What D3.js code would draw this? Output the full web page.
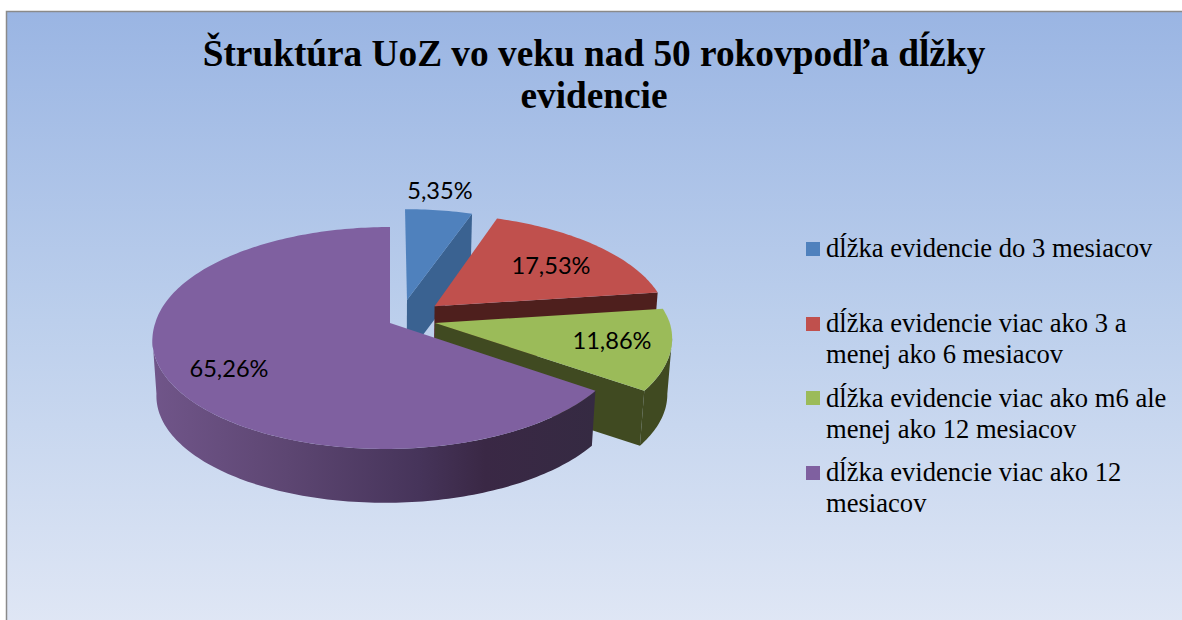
<!DOCTYPE html>
<html><head><meta charset="utf-8">
<script src="https://cdn.jsdelivr.net/npm/d3@7/dist/d3.min.js"></script>
<style>html,body{margin:0;padding:0;background:#fff;overflow:hidden}svg{display:block}</style>
</head><body><svg id="c" width="1182" height="620"></svg>
<script>
const categories = ["dĺžka evidencie do 3 mesiacov","dĺžka evidencie viac ako 3 a menej ako 6 mesiacov","dĺžka evidencie viac ako m6 ale menej ako 12 mesiacov","dĺžka evidencie viac ako 12 mesiacov"];
const values = [5.35, 17.53, 11.86, 65.26];
const valueLabels = ["5,35%","17,53%","11,86%","65,26%"];
const titleLines = ["Štruktúra UoZ vo veku nad 50 rokovpodľa dĺžky","evidencie"];
const legendLines = [["dĺžka evidencie do 3 mesiacov"],["dĺžka evidencie viac ako 3 a","menej ako 6 mesiacov"],["dĺžka evidencie viac ako m6 ale","menej ako 12 mesiacov"],["dĺžka evidencie viac ako 12","mesiacov"]];

// Layout and style, separate from the data
const colors = ["#4f81bd","#c0504d","#9bbb59","#7f60a0"];
const wallColors = ["#3a6291","#4e1f1d","#404a21","#4a3a60"];
const explode = [[.0745,.217],[.194,.158],[.192,0],[0,0]];
const labelPos = [[440,190],[551,265],[612,340],[229,368]];
const legendSwatchY = [242,317,391,466];
const legendBase = [[257],[332,363],[407,438],[481,512]];

const svg = d3.select("#c");
const defs = svg.append("defs");
const bg = defs.append("linearGradient").attr("id","bg").attr("x1",0).attr("y1",0).attr("x2",0).attr("y2",1);
bg.append("stop").attr("offset",0).attr("stop-color","#9ab5e3");
bg.append("stop").attr("offset",.5).attr("stop-color","#bccfec");
bg.append("stop").attr("offset",1).attr("stop-color","#e0e7f5");
const wg = defs.append("linearGradient").attr("id","wall").attr("gradientUnits","userSpaceOnUse")
  .attr("x1",155).attr("y1",0).attr("x2",595).attr("y2",0);
[[0,"#705589"],[.3,"#5d4672"],[.6,"#46345a"],[.75,"#3a2845"],[1,"#352a42"]].forEach(s=>wg.append("stop").attr("offset",s[0]).attr("stop-color",s[1]));

svg.append("rect").attr("x",6.5).attr("y",11.5).attr("width",1200).attr("height",620).attr("fill","url(#bg)").attr("stroke","#8a8a8a").attr("stroke-width",1.5);

// Perspective projection of a unit disc
const cx=390, cy=323, D=7.4, F=1737, G=806, drop=56, shrink=.017, skew=5;
function proj(X,Y,z){
  const s=1-shrink*z, w=D+Y;
  return [cx+s*F*X/w+skew*Math.min(Y,0), cy+drop*z-s*G*Y/w];
}
const pie = d3.pie().sort(null).value(d=>d);
const arcs = pie(values);
const line = d3.line();
function rim(a0,a1,off,z){
  const n=Math.max(2,Math.ceil(Math.abs(a1-a0)/.02));
  return d3.range(n+1).map(i=>{
    const t=a0+(a1-a0)*i/n;
    return proj(off[0]+Math.sin(t),off[1]+Math.cos(t),z);
  });
}
const silhouette=Math.acos(-1/D);
const g=svg.append("g");
arcs.forEach((a,i)=>{
  const off=explode[i];
  const apexTop=proj(off[0],off[1],0), apexBot=proj(off[0],off[1],1);
  const slice=g.append("g");
  const vis0=Math.max(a.startAngle,silhouette), vis1=Math.min(a.endAngle,2*Math.PI-silhouette);
  if(vis1>vis0){
    const pts=rim(vis0,vis1,off,0).concat(rim(vis1,vis0,off,1));
    slice.append("path").attr("d",line(pts)+"Z").attr("fill",i===3?"url(#wall)":wallColors[i]);
  }
  if(i!==3){
    const t=rim(a.endAngle,a.endAngle,off,0)[0], b=rim(a.endAngle,a.endAngle,off,1)[0];
    slice.append("path").attr("d",line([apexTop,t,b,apexBot])+"Z").attr("fill",wallColors[i]);
  }
  const pts=[apexTop].concat(rim(a.startAngle,a.endAngle,off,0));
  slice.append("path").attr("d",line(pts)+"Z").attr("fill",colors[i]);
});

svg.append("g").selectAll("text").data(valueLabels).join("text")
  .attr("x",(d,i)=>labelPos[i][0]).attr("y",(d,i)=>labelPos[i][1])
  .attr("text-anchor","middle").attr("dominant-baseline","central")
  .attr("font-family","Lato, sans-serif").attr("font-size",23.6).attr("fill","#000").text(d=>d);

svg.append("g").selectAll("text").data(titleLines).join("text")
  .attr("x",594).attr("y",(d,i)=>66+i*42).attr("text-anchor","middle")
  .attr("font-family","'Liberation Serif', serif").attr("font-weight","bold").attr("font-size",37.3).attr("fill","#000").text(d=>d);

const lg=svg.append("g").selectAll("g").data(categories).join("g");
lg.append("rect").attr("x",806).attr("y",(d,i)=>legendSwatchY[i]).attr("width",14).attr("height",14).attr("fill",(d,i)=>colors[i]);
lg.each(function(d,i){
  d3.select(this).selectAll("text").data(legendLines[i]).join("text")
    .attr("x",826).attr("y",(t,j)=>legendBase[i][j])
    .attr("font-family","'Liberation Serif', serif").attr("font-size",26.6).attr("fill","#000").text(t=>t);
});
</script></body></html>
